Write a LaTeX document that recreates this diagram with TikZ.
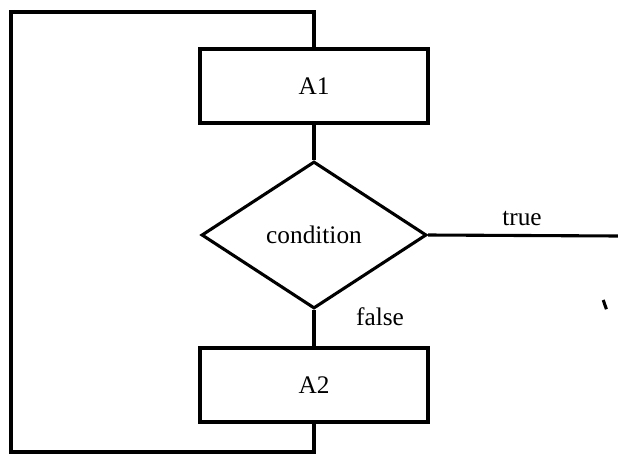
\documentclass[tikz,border=0pt]{standalone}
\usepackage{fontspec}
\setmainfont{Liberation Serif}
\usepackage{tikz}
\usetikzlibrary{shapes.geometric}
\tikzset{
  block/.style={draw,minimum width=5.7cm,minimum height=1.85cm,inner sep=0},
  decision/.style={draw,diamond,minimum width=5.625cm,minimum height=3.675cm,inner sep=0},
  tag/.style={inner sep=0pt},
  every picture/.style={line width=2.2pt,font=\fontsize{18}{21}\selectfont},
}
\begin{document}
\begin{tikzpicture}
  \useasboundingbox (0,0) rectangle (15.45,11.45);
  % the blocks
  \node[block] (a1) at (7.85,9.3){A1};
  \node[decision] (cond) at (7.85,5.575){condition};
  \node[block] (a2) at (7.85,1.825){A2};
  % labels of the two exits
  \node[tag] (true) at (13.05,6.0){true};
  \node[tag] (false) at (9.5,3.525){false};
  % corners of the loop and the free ends
  \coordinate (cornerBL) at (0.275,0.15);
  \coordinate (cornerTL) at (0.275,11.15);
  \coordinate (trueEnd) at (15.45,5.55);
  \coordinate (markTop) at (15.08,3.95);
  \coordinate (markBot) at (15.16,3.72);

  \draw (a1.south) -- (cond.north);
  \draw (cond.south) -- (a2.north);
  \draw (cond.east) -- (trueEnd);
  \draw (a2.south) |- (cornerBL) -- (cornerTL) -| (a1.north);  % back to the top
  \draw (markTop) -- (markBot);
\end{tikzpicture}
\end{document}
